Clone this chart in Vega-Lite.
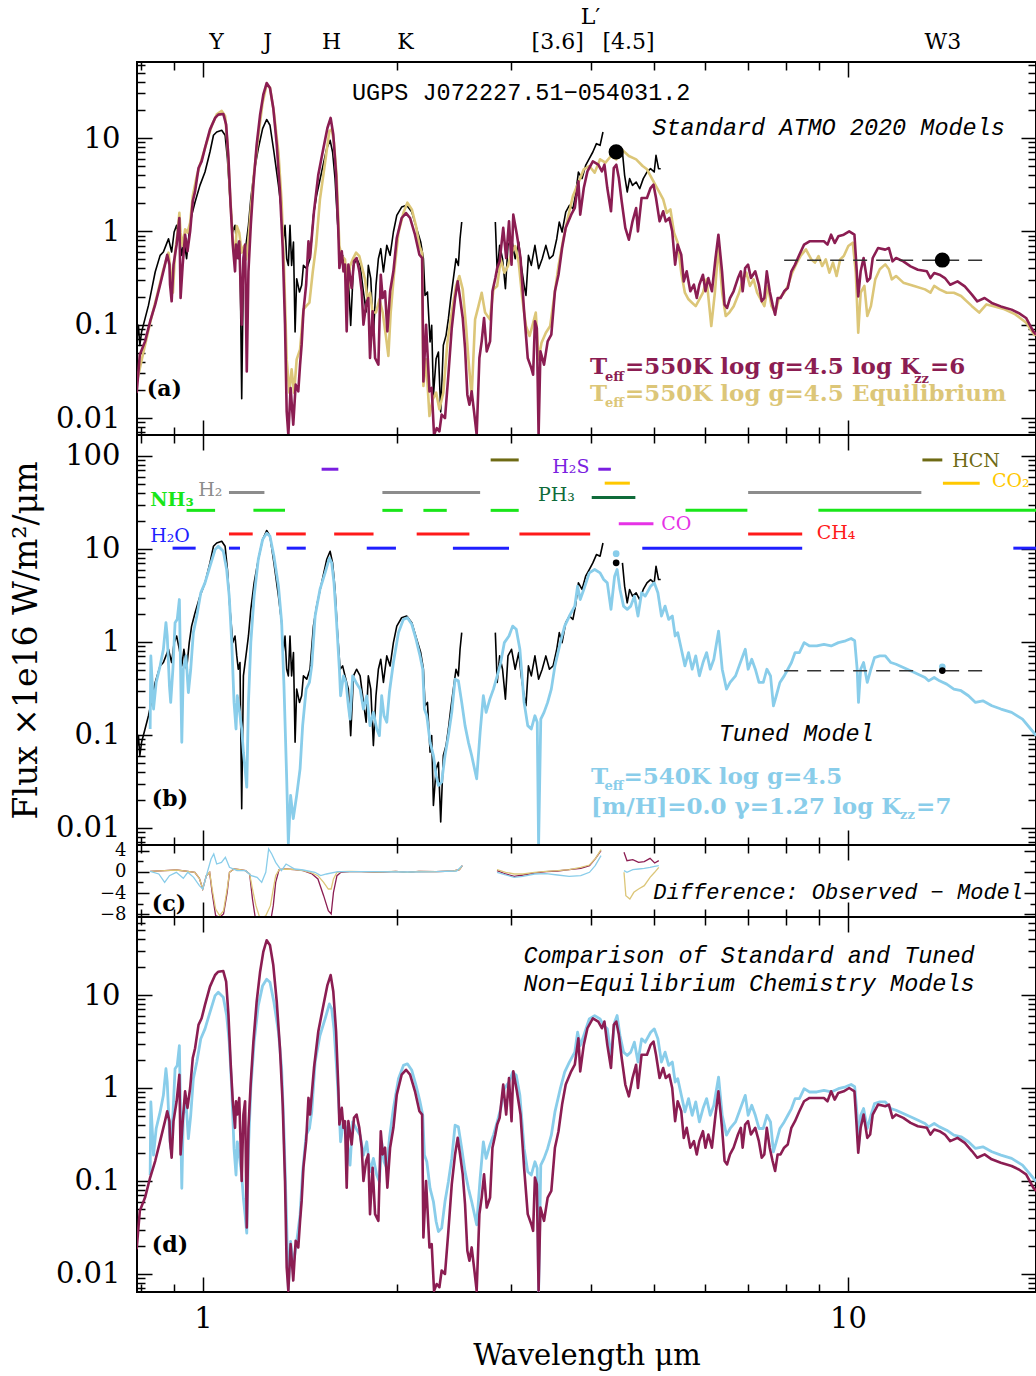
{
"$schema":"https://vega.github.io/schema/vega-lite/v6.json",
"background":"white",
"padding":{"left":9,"top":4,"right":0,"bottom":0},
"spacing":0,
"bounds":"flush",
"resolve":{"scale":{"color":"independent"}},
"config":{
 "view":{"stroke":"black","strokeWidth":2},
 "axis":{"domain":false,"grid":false,"labelFont":"DejaVu Serif","titleFont":"DejaVu Serif","labelColor":"black","titleColor":"black","tickColor":"black","tickWidth":1.5,"titleFontWeight":"normal","labelOverlap":false,"labelFlush":false,"labelBound":false}
},
"datasets":{
"obs":[{"w":0.789,"f":0.0652,"seg":1},{"w":0.794,"f":0.0984,"seg":1},{"w":0.798,"f":0.0601,"seg":1},{"w":0.803,"f":0.0834,"seg":1},{"w":0.813,"f":0.116,"seg":1},{"w":0.823,"f":0.161,"seg":1},{"w":0.833,"f":0.243,"seg":1},{"w":0.843,"f":0.367,"seg":1},{"w":0.858,"f":0.553,"seg":1},{"w":0.868,"f":0.601,"seg":1},{"w":0.876,"f":0.708,"seg":1},{"w":0.884,"f":0.834,"seg":1},{"w":0.894,"f":0.601,"seg":1},{"w":0.902,"f":0.984,"seg":1},{"w":0.91,"f":1.16,"seg":1},{"w":0.919,"f":0.834,"seg":1},{"w":0.927,"f":0.553,"seg":1},{"w":0.934,"f":0.834,"seg":1},{"w":0.943,"f":0.509,"seg":1},{"w":0.952,"f":0.984,"seg":1},{"w":0.96,"f":1.48,"seg":1},{"w":0.972,"f":2.06,"seg":1},{"w":0.989,"f":3.11,"seg":1},{"w":1.007,"f":4.32,"seg":1},{"w":1.025,"f":7.08,"seg":1},{"w":1.038,"f":10.7,"seg":1},{"w":1.05,"f":11.6,"seg":1},{"w":1.069,"f":12.1,"seg":1},{"w":1.082,"f":10.7,"seg":1},{"w":1.091,"f":6.01,"seg":1},{"w":1.101,"f":2.24,"seg":1},{"w":1.112,"f":0.984,"seg":1},{"w":1.121,"f":1.16,"seg":1},{"w":1.128,"f":0.708,"seg":1},{"w":1.134,"f":0.509,"seg":1},{"w":1.141,"f":0.601,"seg":1},{"w":1.148,"f":0.0161,"seg":1},{"w":1.155,"f":0.432,"seg":1},{"w":1.162,"f":0.601,"seg":1},{"w":1.169,"f":0.834,"seg":1},{"w":1.176,"f":1.16,"seg":1},{"w":1.186,"f":2.24,"seg":1},{"w":1.2,"f":4.32,"seg":1},{"w":1.218,"f":7.69,"seg":1},{"w":1.237,"f":12.6,"seg":1},{"w":1.255,"f":15.8,"seg":1},{"w":1.27,"f":13.7,"seg":1},{"w":1.288,"f":7.08,"seg":1},{"w":1.309,"f":3.11,"seg":1},{"w":1.324,"f":1.61,"seg":1},{"w":1.331,"f":0.769,"seg":1},{"w":1.34,"f":1.16,"seg":1},{"w":1.348,"f":0.509,"seg":1},{"w":1.356,"f":0.432,"seg":1},{"w":1.364,"f":1.16,"seg":1},{"w":1.372,"f":0.432,"seg":1},{"w":1.381,"f":0.769,"seg":1},{"w":1.389,"f":0.0834,"seg":1},{"w":1.397,"f":0.311,"seg":1},{"w":1.411,"f":0.224,"seg":1},{"w":1.422,"f":0.264,"seg":1},{"w":1.431,"f":0.432,"seg":1},{"w":1.448,"f":0.398,"seg":1},{"w":1.465,"f":0.509,"seg":1},{"w":1.483,"f":1.48,"seg":1},{"w":1.5,"f":2.43,"seg":1},{"w":1.527,"f":4.32,"seg":1},{"w":1.555,"f":7.69,"seg":1},{"w":1.574,"f":9.44,"seg":1},{"w":1.588,"f":7.08,"seg":1},{"w":1.602,"f":3.67,"seg":1},{"w":1.615,"f":1.37,"seg":1},{"w":1.631,"f":0.509,"seg":1},{"w":1.646,"f":0.553,"seg":1},{"w":1.66,"f":0.432,"seg":1},{"w":1.68,"f":0.311,"seg":1},{"w":1.694,"f":0.0984,"seg":1},{"w":1.711,"f":0.432,"seg":1},{"w":1.73,"f":0.509,"seg":1},{"w":1.752,"f":0.432,"seg":1},{"w":1.773,"f":0.224,"seg":1},{"w":1.79,"f":0.137,"seg":1},{"w":1.804,"f":0.432,"seg":1},{"w":1.82,"f":0.311,"seg":1},{"w":1.837,"f":0.0769,"seg":1},{"w":1.854,"f":0.264,"seg":1},{"w":1.87,"f":0.509,"seg":1},{"w":1.886,"f":0.652,"seg":1},{"w":1.904,"f":0.367,"seg":1},{"w":1.927,"f":0.708,"seg":1},{"w":1.95,"f":0.553,"seg":1},{"w":1.973,"f":0.984,"seg":1},{"w":1.997,"f":1.48,"seg":1},{"w":2.032,"f":1.82,"seg":1},{"w":2.069,"f":1.9,"seg":1},{"w":2.107,"f":1.61,"seg":1},{"w":2.144,"f":1.07,"seg":1},{"w":2.175,"f":0.769,"seg":1},{"w":2.196,"f":0.509,"seg":1},{"w":2.209,"f":0.206,"seg":1},{"w":2.228,"f":0.224,"seg":1},{"w":2.249,"f":0.0652,"seg":1},{"w":2.262,"f":0.0984,"seg":1},{"w":2.276,"f":0.0175,"seg":1},{"w":2.298,"f":0.0432,"seg":1},{"w":2.317,"f":0.0509,"seg":1},{"w":2.336,"f":0.0116,"seg":1},{"w":2.358,"f":0.0601,"seg":1},{"w":2.381,"f":0.0769,"seg":1},{"w":2.401,"f":0.116,"seg":1},{"w":2.421,"f":0.19,"seg":1},{"w":2.444,"f":0.311,"seg":1},{"w":2.467,"f":0.509,"seg":1},{"w":2.488,"f":0.432,"seg":1},{"w":2.503,"f":0.834,"seg":1},{"w":2.518,"f":1.26,"seg":1},
{"w":2.839,"f":1.26,"seg":2},{"w":2.858,"f":0.367,"seg":2},{"w":2.883,"f":0.708,"seg":2},{"w":2.913,"f":0.509,"seg":2},{"w":2.943,"f":0.243,"seg":2},{"w":2.97,"f":0.708,"seg":2},{"w":3.008,"f":0.834,"seg":2},{"w":3.047,"f":0.509,"seg":2},{"w":3.086,"f":0.769,"seg":2},{"w":3.114,"f":0.432,"seg":2},{"w":3.146,"f":0.264,"seg":2},{"w":3.167,"f":0.206,"seg":2},{"w":3.195,"f":0.553,"seg":2},{"w":3.228,"f":0.432,"seg":2},{"w":3.27,"f":0.708,"seg":2},{"w":3.313,"f":0.398,"seg":2},{"w":3.356,"f":0.509,"seg":2},{"w":3.4,"f":0.708,"seg":2},{"w":3.444,"f":0.509,"seg":2},{"w":3.489,"f":0.553,"seg":2},{"w":3.535,"f":0.834,"seg":2},{"w":3.567,"f":1.26,"seg":2},{"w":3.603,"f":0.984,"seg":2},{"w":3.65,"f":1.61,"seg":2},{"w":3.698,"f":1.9,"seg":2},{"w":3.745,"f":1.75,"seg":2},{"w":3.779,"f":2.43,"seg":2},{"w":3.819,"f":4.32,"seg":2},{"w":3.869,"f":3.67,"seg":2},{"w":3.919,"f":5.09,"seg":2},{"w":3.97,"f":6.01,"seg":2},{"w":4.021,"f":7.08,"seg":2},{"w":4.073,"f":8.7,"seg":2},{"w":4.126,"f":8.35,"seg":2},{"w":4.169,"f":11.6,"seg":2},
{"w":4.469,"f":7.08,"seg":3},{"w":4.504,"f":3.98,"seg":3},{"w":4.546,"f":2.64,"seg":3},{"w":4.585,"f":3.67,"seg":3},{"w":4.633,"f":3.11,"seg":3},{"w":4.693,"f":3.38,"seg":3},{"w":4.753,"f":2.86,"seg":3},{"w":4.814,"f":3.67,"seg":3},{"w":4.878,"f":4.32,"seg":3},{"w":4.941,"f":4.69,"seg":3},{"w":5.006,"f":4.32,"seg":3},{"w":5.038,"f":6.52,"seg":3},{"w":5.084,"f":4.69,"seg":3},{"w":5.123,"f":4.69,"seg":3}],
"neq":[{"w":0.789,"f":0.0185},{"w":0.798,"f":0.0477},{"w":0.813,"f":0.0663},{"w":0.828,"f":0.109},{"w":0.843,"f":0.164},{"w":0.858,"f":0.268},{"w":0.873,"f":0.44},{"w":0.88,"f":0.562},{"w":0.887,"f":0.44},{"w":0.889,"f":0.268},{"w":0.894,"f":0.178},{"w":0.9,"f":0.44},{"w":0.91,"f":0.72},{"w":0.919,"f":1.39},{"w":0.923,"f":0.193},{"w":0.93,"f":0.44},{"w":0.938,"f":0.921},{"w":0.946,"f":0.611},{"w":0.955,"f":1.0},{"w":0.964,"f":2.1},{"w":0.972,"f":2.68},{"w":0.984,"f":4.77},{"w":0.995,"f":5.62},{"w":1.007,"f":7.82},{"w":1.025,"f":12.3},{"w":1.044,"f":16.4},{"w":1.056,"f":17.8},{"w":1.075,"f":18.1},{"w":1.086,"f":13.9},{"w":1.095,"f":6.11},{"w":1.104,"f":1.78},{"w":1.112,"f":0.72},{"w":1.121,"f":0.373},{"w":1.125,"f":0.72},{"w":1.13,"f":0.518},{"w":1.138,"f":0.782},{"w":1.148,"f":0.1},{"w":1.155,"f":0.518},{"w":1.162,"f":0.72},{"w":1.169,"f":0.0316},{"w":1.176,"f":0.373},{"w":1.186,"f":1.18},{"w":1.197,"f":3.16},{"w":1.211,"f":8.48},{"w":1.226,"f":17.8},{"w":1.24,"f":29.1},{"w":1.255,"f":38.8},{"w":1.27,"f":34.3},{"w":1.285,"f":21.0},{"w":1.301,"f":8.48},{"w":1.316,"f":2.68},{"w":1.329,"f":0.663},{"w":1.34,"f":0.1},{"w":1.348,"f":0.0118},{"w":1.356,"f":0.0066},{"w":1.367,"f":0.021},{"w":1.38,"f":0.0085},{"w":1.392,"f":0.0228},{"w":1.405,"f":0.0193},{"w":1.414,"f":0.0373},{"w":1.422,"f":0.0611},{"w":1.431,"f":0.139},{"w":1.445,"f":0.268},{"w":1.457,"f":0.782},{"w":1.465,"f":0.518},{"w":1.474,"f":0.849},{"w":1.486,"f":1.64},{"w":1.509,"f":4.05},{"w":1.537,"f":7.82},{"w":1.559,"f":12.8},{"w":1.577,"f":16.4},{"w":1.592,"f":10.9},{"w":1.608,"f":4.05},{"w":1.621,"f":1.0},{"w":1.627,"f":0.405},{"w":1.641,"f":0.611},{"w":1.651,"f":0.373},{"w":1.66,"f":0.44},{"w":1.67,"f":0.0849},{"w":1.68,"f":0.44},{"w":1.7,"f":0.247},{"w":1.714,"f":0.477},{"w":1.73,"f":0.518},{"w":1.747,"f":0.373},{"w":1.762,"f":0.228},{"w":1.773,"f":0.1},{"w":1.79,"f":0.164},{"w":1.804,"f":0.193},{"w":1.815,"f":0.044},{"w":1.832,"f":0.139},{"w":1.848,"f":0.044},{"w":1.87,"f":0.0373},{"w":1.886,"f":0.343},{"w":1.899,"f":0.193},{"w":1.915,"f":0.228},{"w":1.931,"f":0.0849},{"w":1.95,"f":0.228},{"w":1.973,"f":0.373},{"w":1.997,"f":0.849},{"w":2.032,"f":1.39},{"w":2.064,"f":1.57},{"w":2.094,"f":1.39},{"w":2.131,"f":0.921},{"w":2.165,"f":0.562},{"w":2.186,"f":0.518},{"w":2.196,"f":0.0247},{"w":2.217,"f":0.1},{"w":2.244,"f":0.0193},{"w":2.262,"f":0.021},{"w":2.281,"f":0.0066},{"w":2.303,"f":0.0078},{"w":2.325,"f":0.0072},{"w":2.344,"f":0.0109},{"w":2.372,"f":0.01},{"w":2.401,"f":0.0291},{"w":2.43,"f":0.0921},{"w":2.459,"f":0.193},{"w":2.482,"f":0.291},{"w":2.503,"f":0.193},{"w":2.527,"f":0.118},{"w":2.548,"f":0.0562},{"w":2.569,"f":0.0178},{"w":2.588,"f":0.0139},{"w":2.609,"f":0.0193},{"w":2.631,"f":0.0118},{"w":2.656,"f":0.0066},{"w":2.682,"f":0.044},{"w":2.704,"f":0.0663},{"w":2.727,"f":0.118},{"w":2.753,"f":0.0518},{"w":2.786,"f":0.0663},{"w":2.81,"f":0.228},{"w":2.839,"f":0.316},{"w":2.858,"f":0.405},{"w":2.883,"f":0.477},{"w":2.92,"f":1.09},{"w":2.951,"f":0.518},{"w":2.981,"f":1.28},{"w":3.008,"f":0.44},{"w":3.027,"f":1.51},{"w":3.066,"f":0.921},{"w":3.106,"f":0.518},{"w":3.146,"f":0.139},{"w":3.187,"f":0.044},{"w":3.228,"f":0.0343},{"w":3.249,"f":0.0291},{"w":3.27,"f":0.109},{"w":3.292,"f":0.0921},{"w":3.313,"f":0.0066},{"w":3.335,"f":0.0518},{"w":3.378,"f":0.0373},{"w":3.422,"f":0.0663},{"w":3.467,"f":0.0781},{"w":3.512,"f":0.228},{"w":3.557,"f":0.343},{"w":3.603,"f":0.663},{"w":3.65,"f":1.09},{"w":3.722,"f":1.51},{"w":3.77,"f":1.78},{"w":3.819,"f":3.43},{"w":3.844,"f":1.51},{"w":3.893,"f":2.91},{"w":3.944,"f":4.39},{"w":4.021,"f":5.62},{"w":4.1,"f":5.18},{"w":4.153,"f":4.39},{"w":4.191,"f":5.18},{"w":4.234,"f":2.91},{"w":4.29,"f":1.64},{"w":4.333,"f":4.77},{"w":4.372,"f":5.18},{"w":4.412,"f":3.73},{"w":4.457,"f":2.1},{"w":4.515,"f":1.09},{"w":4.573,"f":0.814},{"w":4.633,"f":1.28},{"w":4.693,"f":1.78},{"w":4.723,"f":1.0},{"w":4.785,"f":2.28},{"w":4.878,"f":2.28},{"w":4.941,"f":2.91},{"w":4.993,"f":3.16},{"w":5.038,"f":2.28},{"w":5.103,"f":1.28},{"w":5.169,"f":1.64},{"w":5.216,"f":1.28},{"w":5.283,"f":1.39},{"w":5.338,"f":1.0},{"w":5.394,"f":0.44},{"w":5.443,"f":0.72},{"w":5.513,"f":0.562},{"w":5.563,"f":0.291},{"w":5.621,"f":0.373},{"w":5.694,"f":0.228},{"w":5.768,"f":0.268},{"w":5.827,"f":0.193},{"w":5.88,"f":0.268},{"w":5.957,"f":0.343},{"w":6.011,"f":0.228},{"w":6.073,"f":0.316},{"w":6.151,"f":0.228},{"w":6.231,"f":0.518},{"w":6.295,"f":0.921},{"w":6.377,"f":0.373},{"w":6.435,"f":0.164},{"w":6.493,"f":0.151},{"w":6.561,"f":0.193},{"w":6.646,"f":0.228},{"w":6.75,"f":0.316},{"w":6.82,"f":0.373},{"w":6.864,"f":0.228},{"w":6.926,"f":0.405},{"w":6.998,"f":0.44},{"w":7.07,"f":0.316},{"w":7.18,"f":0.373},{"w":7.273,"f":0.268},{"w":7.348,"f":0.178},{"w":7.416,"f":0.193},{"w":7.482,"f":0.373},{"w":7.56,"f":0.228},{"w":7.638,"f":0.164},{"w":7.707,"f":0.128},{"w":7.777,"f":0.193},{"w":7.858,"f":0.193},{"w":7.96,"f":0.228},{"w":8.063,"f":0.247},{"w":8.168,"f":0.373},{"w":8.275,"f":0.44},{"w":8.404,"f":0.562},{"w":8.547,"f":0.72},{"w":8.714,"f":0.782},{"w":8.941,"f":0.782},{"w":9.174,"f":0.782},{"w":9.292,"f":0.72},{"w":9.413,"f":0.921},{"w":9.535,"f":0.75},{"w":9.658,"f":0.884},{"w":9.847,"f":0.921},{"w":10.04,"f":1.0},{"w":10.23,"f":0.921},{"w":10.3,"f":0.44},{"w":10.37,"f":0.201},{"w":10.46,"f":0.373},{"w":10.57,"f":0.518},{"w":10.71,"f":0.291},{"w":10.82,"f":0.316},{"w":10.92,"f":0.518},{"w":11.13,"f":0.663},{"w":11.42,"f":0.637},{"w":11.57,"f":0.663},{"w":11.72,"f":0.477},{"w":11.87,"f":0.518},{"w":12.18,"f":0.477},{"w":12.5,"f":0.422},{"w":12.83,"f":0.388},{"w":13.25,"f":0.373},{"w":13.42,"f":0.316},{"w":13.6,"f":0.358},{"w":13.86,"f":0.343},{"w":14.13,"f":0.316},{"w":14.4,"f":0.268},{"w":14.78,"f":0.291},{"w":15.17,"f":0.257},{"w":15.56,"f":0.21},{"w":15.86,"f":0.178},{"w":16.28,"f":0.193},{"w":16.7,"f":0.171},{"w":17.25,"f":0.157},{"w":17.93,"f":0.145},{"w":18.4,"f":0.133},{"w":18.88,"f":0.118},{"w":19.37,"f":0.0849},{"w":19.57,"f":0.078}],
"eq":[{"w":0.789,"f":0.0239},{"w":0.808,"f":0.0501},{"w":0.828,"f":0.105},{"w":0.848,"f":0.203},{"w":0.868,"f":0.392},{"w":0.884,"f":0.591},{"w":0.891,"f":0.361},{"w":0.898,"f":0.22},{"w":0.905,"f":0.591},{"w":0.912,"f":0.891},{"w":0.919,"f":1.58},{"w":0.923,"f":0.968},{"w":0.93,"f":0.696},{"w":0.938,"f":1.05},{"w":0.946,"f":0.968},{"w":0.955,"f":1.24},{"w":0.964,"f":2.39},{"w":0.978,"f":3.92},{"w":0.995,"f":5.91},{"w":1.013,"f":8.91},{"w":1.031,"f":13.4},{"w":1.05,"f":17.9},{"w":1.069,"f":19.5},{"w":1.082,"f":17.2},{"w":1.091,"f":8.91},{"w":1.101,"f":2.6},{"w":1.112,"f":0.821},{"w":1.121,"f":0.501},{"w":1.128,"f":1.14},{"w":1.138,"f":0.968},{"w":1.148,"f":0.591},{"w":1.158,"f":0.696},{"w":1.166,"f":0.501},{"w":1.176,"f":0.821},{"w":1.186,"f":1.72},{"w":1.2,"f":4.25},{"w":1.218,"f":10.5},{"w":1.237,"f":23.9},{"w":1.255,"f":37.6},{"w":1.27,"f":34.6},{"w":1.288,"f":18.7},{"w":1.309,"f":6.96},{"w":1.324,"f":2.03},{"w":1.335,"f":0.425},{"w":1.348,"f":0.0425},{"w":1.361,"f":0.0187},{"w":1.372,"f":0.0332},{"w":1.384,"f":0.0187},{"w":1.397,"f":0.0425},{"w":1.414,"f":0.0544},{"w":1.431,"f":0.146},{"w":1.445,"f":0.158},{"w":1.462,"f":0.172},{"w":1.479,"f":0.361},{"w":1.497,"f":0.696},{"w":1.518,"f":2.2},{"w":1.546,"f":5.44},{"w":1.57,"f":11.9},{"w":1.583,"f":12.4},{"w":1.596,"f":8.91},{"w":1.611,"f":3.92},{"w":1.627,"f":0.696},{"w":1.641,"f":0.544},{"w":1.66,"f":0.501},{"w":1.674,"f":0.203},{"w":1.69,"f":0.425},{"w":1.706,"f":0.501},{"w":1.727,"f":0.591},{"w":1.747,"f":0.544},{"w":1.762,"f":0.425},{"w":1.783,"f":0.306},{"w":1.798,"f":0.187},{"w":1.815,"f":0.22},{"w":1.832,"f":0.135},{"w":1.854,"f":0.135},{"w":1.877,"f":0.187},{"w":1.899,"f":0.135},{"w":1.921,"f":0.0756},{"w":1.938,"f":0.0462},{"w":1.954,"f":0.135},{"w":1.978,"f":0.361},{"w":2.009,"f":0.968},{"w":2.045,"f":1.58},{"w":2.074,"f":2.03},{"w":2.107,"f":1.72},{"w":2.139,"f":1.14},{"w":2.165,"f":0.696},{"w":2.186,"f":0.591},{"w":2.196,"f":0.022},{"w":2.217,"f":0.0425},{"w":2.244,"f":0.0105},{"w":2.27,"f":0.0158},{"w":2.298,"f":0.0187},{"w":2.325,"f":0.0124},{"w":2.358,"f":0.0187},{"w":2.392,"f":0.0641},{"w":2.43,"f":0.135},{"w":2.467,"f":0.26},{"w":2.497,"f":0.332},{"w":2.527,"f":0.239},{"w":2.557,"f":0.0968},{"w":2.579,"f":0.0425},{"w":2.609,"f":0.0172},{"w":2.641,"f":0.114},{"w":2.673,"f":0.158},{"w":2.704,"f":0.22},{"w":2.737,"f":0.135},{"w":2.784,"f":0.114},{"w":2.82,"f":0.239},{"w":2.858,"f":0.26},{"w":2.894,"f":0.501},{"w":2.932,"f":0.361},{"w":2.97,"f":0.425},{"w":3.008,"f":0.591},{"w":3.047,"f":0.696},{"w":3.086,"f":0.462},{"w":3.127,"f":0.187},{"w":3.167,"f":0.0968},{"w":3.208,"f":0.0756},{"w":3.25,"f":0.105},{"w":3.28,"f":0.135},{"w":3.313,"f":0.0425},{"w":3.348,"f":0.0641},{"w":3.4,"f":0.082},{"w":3.453,"f":0.0968},{"w":3.498,"f":0.187},{"w":3.557,"f":0.425},{"w":3.618,"f":0.821},{"w":3.674,"f":1.35},{"w":3.745,"f":2.39},{"w":3.819,"f":3.32},{"w":3.893,"f":4.62},{"w":3.97,"f":5.01},{"w":4.047,"f":4.25},{"w":4.126,"f":5.91},{"w":4.206,"f":5.44},{"w":4.29,"f":6.41},{"w":4.373,"f":5.91},{"w":4.457,"f":7.56},{"w":4.573,"f":6.41},{"w":4.693,"f":5.91},{"w":4.803,"f":5.01},{"w":4.878,"f":4.62},{"w":4.973,"f":3.61},{"w":5.038,"f":3.06},{"w":5.103,"f":2.6},{"w":5.169,"f":2.2},{"w":5.236,"f":1.58},{"w":5.304,"f":1.72},{"w":5.373,"f":0.968},{"w":5.443,"f":0.756},{"w":5.513,"f":0.361},{"w":5.585,"f":0.22},{"w":5.657,"f":0.187},{"w":5.73,"f":0.172},{"w":5.805,"f":0.158},{"w":5.881,"f":0.187},{"w":5.957,"f":0.22},{"w":6.035,"f":0.306},{"w":6.137,"f":0.0968},{"w":6.216,"f":0.22},{"w":6.297,"f":0.696},{"w":6.38,"f":0.22},{"w":6.462,"f":0.124},{"w":6.546,"f":0.135},{"w":6.648,"f":0.158},{"w":6.778,"f":0.22},{"w":6.866,"f":0.306},{"w":6.955,"f":0.361},{"w":7.045,"f":0.26},{"w":7.137,"f":0.306},{"w":7.228,"f":0.22},{"w":7.322,"f":0.187},{"w":7.418,"f":0.158},{"w":7.511,"f":0.26},{"w":7.609,"f":0.158},{"w":7.709,"f":0.135},{"w":7.807,"f":0.187},{"w":7.962,"f":0.22},{"w":8.066,"f":0.26},{"w":8.192,"f":0.361},{"w":8.331,"f":0.462},{"w":8.439,"f":0.544},{"w":8.603,"f":0.641},{"w":8.77,"f":0.501},{"w":8.884,"f":0.462},{"w":8.999,"f":0.544},{"w":9.117,"f":0.425},{"w":9.235,"f":0.501},{"w":9.355,"f":0.361},{"w":9.476,"f":0.462},{"w":9.599,"f":0.332},{"w":9.723,"f":0.501},{"w":9.849,"f":0.544},{"w":10.01,"f":0.696},{"w":10.17,"f":0.756},{"w":10.28,"f":0.361},{"w":10.37,"f":0.082},{"w":10.46,"f":0.22},{"w":10.6,"f":0.26},{"w":10.71,"f":0.124},{"w":10.85,"f":0.158},{"w":11.02,"f":0.306},{"w":11.2,"f":0.392},{"w":11.42,"f":0.443},{"w":11.57,"f":0.392},{"w":11.69,"f":0.306},{"w":11.87,"f":0.332},{"w":12.18,"f":0.282},{"w":12.66,"f":0.26},{"w":13.16,"f":0.239},{"w":13.42,"f":0.22},{"w":13.6,"f":0.26},{"w":13.86,"f":0.239},{"w":14.22,"f":0.22},{"w":14.59,"f":0.22},{"w":14.97,"f":0.203},{"w":15.56,"f":0.158},{"w":15.97,"f":0.135},{"w":16.39,"f":0.165},{"w":16.82,"f":0.158},{"w":17.48,"f":0.146},{"w":18.17,"f":0.129},{"w":18.89,"f":0.105},{"w":19.5,"f":0.0756}],
"tuned":[{"w":0.828,"f":0.116},{"w":0.83,"f":0.708},{"w":0.838,"f":0.19},{"w":0.846,"f":0.367},{"w":0.858,"f":0.553},{"w":0.868,"f":0.834},{"w":0.876,"f":1.61},{"w":0.88,"f":1.16},{"w":0.887,"f":0.338},{"w":0.891,"f":0.224},{"w":0.898,"f":0.509},{"w":0.905,"f":1.61},{"w":0.912,"f":1.75},{"w":0.919,"f":2.86},{"w":0.923,"f":0.509},{"w":0.927,"f":0.0834},{"w":0.932,"f":0.509},{"w":0.941,"f":0.708},{"w":0.949,"f":0.286},{"w":0.957,"f":0.509},{"w":0.966,"f":1.26},{"w":0.978,"f":1.9},{"w":0.992,"f":3.38},{"w":1.007,"f":4.32},{"w":1.025,"f":6.52},{"w":1.044,"f":9.84},{"w":1.056,"f":10.7},{"w":1.075,"f":9.44},{"w":1.088,"f":6.01},{"w":1.098,"f":3.11},{"w":1.108,"f":0.984},{"w":1.117,"f":0.224},{"w":1.125,"f":0.116},{"w":1.13,"f":0.264},{"w":1.138,"f":0.19},{"w":1.148,"f":0.116},{"w":1.155,"f":0.0652},{"w":1.162,"f":0.0432},{"w":1.169,"f":0.0275},{"w":1.176,"f":0.224},{"w":1.186,"f":0.984},{"w":1.2,"f":3.11},{"w":1.218,"f":7.69},{"w":1.237,"f":12.6},{"w":1.255,"f":14.8},{"w":1.27,"f":13.7},{"w":1.288,"f":8.35},{"w":1.309,"f":3.98},{"w":1.324,"f":1.61},{"w":1.335,"f":0.338},{"w":1.348,"f":0.0338},{"w":1.356,"f":0.0068},{"w":1.367,"f":0.0224},{"w":1.38,"f":0.0126},{"w":1.397,"f":0.0224},{"w":1.414,"f":0.0432},{"w":1.427,"f":0.126},{"w":1.445,"f":0.311},{"w":1.462,"f":0.367},{"w":1.474,"f":0.553},{"w":1.492,"f":1.9},{"w":1.518,"f":3.67},{"w":1.546,"f":5.53},{"w":1.57,"f":8.01},{"w":1.583,"f":7.08},{"w":1.596,"f":4.32},{"w":1.611,"f":1.61},{"w":1.627,"f":0.509},{"w":1.634,"f":0.264},{"w":1.651,"f":0.432},{"w":1.666,"f":0.367},{"w":1.68,"f":0.206},{"w":1.69,"f":0.148},{"w":1.706,"f":0.432},{"w":1.727,"f":0.367},{"w":1.752,"f":0.311},{"w":1.773,"f":0.19},{"w":1.794,"f":0.264},{"w":1.815,"f":0.126},{"w":1.837,"f":0.175},{"w":1.859,"f":0.116},{"w":1.877,"f":0.0984},{"w":1.892,"f":0.264},{"w":1.908,"f":0.161},{"w":1.927,"f":0.137},{"w":1.945,"f":0.286},{"w":1.973,"f":0.601},{"w":2.009,"f":1.26},{"w":2.045,"f":1.75},{"w":2.074,"f":1.82},{"w":2.107,"f":1.55},{"w":2.139,"f":1.07},{"w":2.17,"f":0.708},{"w":2.191,"f":0.509},{"w":2.204,"f":0.19},{"w":2.223,"f":0.161},{"w":2.249,"f":0.0834},{"w":2.276,"f":0.0601},{"w":2.298,"f":0.0367},{"w":2.317,"f":0.0286},{"w":2.344,"f":0.0311},{"w":2.372,"f":0.0601},{"w":2.401,"f":0.0984},{"w":2.43,"f":0.175},{"w":2.459,"f":0.398},{"w":2.488,"f":0.382},{"w":2.518,"f":0.224},{"w":2.548,"f":0.126},{"w":2.579,"f":0.0834},{"w":2.609,"f":0.0601},{"w":2.656,"f":0.0338},{"w":2.689,"f":0.107},{"w":2.72,"f":0.264},{"w":2.747,"f":0.175},{"w":2.784,"f":0.243},{"w":2.82,"f":0.311},{"w":2.858,"f":0.432},{"w":2.894,"f":0.601},{"w":2.932,"f":0.984},{"w":2.981,"f":1.16},{"w":3.02,"f":1.48},{"w":3.059,"f":1.37},{"w":3.099,"f":0.834},{"w":3.146,"f":0.224},{"w":3.187,"f":0.126},{"w":3.228,"f":0.116},{"w":3.27,"f":0.161},{"w":3.297,"f":0.137},{"w":3.313,"f":0.0065},{"w":3.339,"f":0.148},{"w":3.378,"f":0.175},{"w":3.422,"f":0.224},{"w":3.467,"f":0.311},{"w":3.512,"f":0.553},{"w":3.58,"f":0.984},{"w":3.636,"f":1.48},{"w":3.698,"f":1.9},{"w":3.77,"f":2.43},{"w":3.808,"f":3.98},{"w":3.844,"f":2.86},{"w":3.893,"f":3.67},{"w":3.97,"f":5.53},{"w":4.047,"f":6.01},{"w":4.126,"f":5.53},{"w":4.18,"f":4.69},{"w":4.234,"f":4.32},{"w":4.29,"f":2.24},{"w":4.346,"f":5.09},{"w":4.385,"f":6.01},{"w":4.43,"f":3.67},{"w":4.487,"f":2.43},{"w":4.546,"f":2.24},{"w":4.604,"f":2.43},{"w":4.664,"f":3.11},{"w":4.724,"f":1.9},{"w":4.786,"f":3.38},{"w":4.848,"f":3.11},{"w":4.943,"f":3.98},{"w":5.008,"f":4.32},{"w":5.072,"f":3.38},{"w":5.137,"f":1.9},{"w":5.204,"f":2.43},{"w":5.271,"f":1.75},{"w":5.34,"f":1.9},{"w":5.395,"f":1.16},{"w":5.444,"f":1.26},{"w":5.515,"f":0.834},{"w":5.586,"f":0.553},{"w":5.658,"f":0.769},{"w":5.732,"f":0.509},{"w":5.806,"f":0.708},{"w":5.882,"f":0.432},{"w":5.958,"f":0.601},{"w":6.036,"f":0.769},{"w":6.114,"f":0.509},{"w":6.193,"f":0.652},{"w":6.299,"f":1.31},{"w":6.381,"f":0.509},{"w":6.48,"f":0.311},{"w":6.564,"f":0.367},{"w":6.692,"f":0.432},{"w":6.779,"f":0.553},{"w":6.867,"f":0.708},{"w":6.929,"f":0.834},{"w":7.0,"f":0.509},{"w":7.091,"f":0.652},{"w":7.182,"f":0.509},{"w":7.276,"f":0.367},{"w":7.389,"f":0.367},{"w":7.485,"f":0.509},{"w":7.582,"f":0.432},{"w":7.661,"f":0.206},{"w":7.74,"f":0.264},{"w":7.841,"f":0.367},{"w":7.962,"f":0.432},{"w":8.066,"f":0.509},{"w":8.171,"f":0.601},{"w":8.277,"f":0.769},{"w":8.406,"f":0.769},{"w":8.549,"f":0.984},{"w":8.716,"f":0.906},{"w":8.943,"f":0.906},{"w":9.176,"f":0.944},{"w":9.415,"f":0.906},{"w":9.661,"f":0.984},{"w":9.913,"f":1.03},{"w":10.11,"f":1.09},{"w":10.24,"f":1.03},{"w":10.33,"f":0.509},{"w":10.38,"f":0.224},{"w":10.46,"f":0.509},{"w":10.57,"f":0.601},{"w":10.71,"f":0.367},{"w":10.85,"f":0.509},{"w":10.99,"f":0.679},{"w":11.2,"f":0.708},{"w":11.42,"f":0.708},{"w":11.65,"f":0.601},{"w":11.87,"f":0.576},{"w":12.18,"f":0.531},{"w":12.67,"f":0.469},{"w":13.16,"f":0.415},{"w":13.33,"f":0.382},{"w":13.6,"f":0.415},{"w":13.86,"f":0.382},{"w":14.22,"f":0.352},{"w":14.59,"f":0.311},{"w":14.97,"f":0.299},{"w":15.37,"f":0.264},{"w":15.76,"f":0.224},{"w":16.18,"f":0.233},{"w":16.71,"f":0.206},{"w":17.26,"f":0.19},{"w":17.93,"f":0.175},{"w":18.64,"f":0.148},{"w":19.38,"f":0.107},{"w":19.57,"f":0.0984}],
"diff":[{"s":"neq","seg":1,"w":0.828,"f":0.13},{"s":"neq","seg":1,"w":0.872,"f":0.25},{"s":"neq","seg":1,"w":0.909,"f":0.38},{"s":"neq","seg":1,"w":0.947,"f":0.13},{"s":"neq","seg":1,"w":0.971,"f":-0.06},{"s":"neq","seg":1,"w":0.987,"f":-1.21},{"s":"neq","seg":1,"w":0.999,"f":-3.24},{"s":"neq","seg":1,"w":1.012,"f":-0.7},{"s":"neq","seg":1,"w":1.024,"f":-0.06},{"s":"neq","seg":1,"w":1.033,"f":-3.87},{"s":"neq","seg":1,"w":1.046,"f":-8.32},{"s":"neq","seg":1,"w":1.061,"f":-8.63},{"s":"neq","seg":1,"w":1.076,"f":-8.0},{"s":"neq","seg":1,"w":1.09,"f":-3.87},{"s":"neq","seg":1,"w":1.099,"f":-0.06},{"s":"neq","seg":1,"w":1.117,"f":0.57},{"s":"neq","seg":1,"w":1.14,"f":0.44},{"s":"neq","seg":1,"w":1.164,"f":0.25},{"s":"neq","seg":1,"w":1.181,"f":-0.38},{"s":"neq","seg":1,"w":1.193,"f":-5.14},{"s":"neq","seg":1,"w":1.208,"f":-9.59},{"s":"neq","seg":1,"w":1.226,"f":-10.2},{"s":"neq","seg":1,"w":1.251,"f":-10.2},{"s":"neq","seg":1,"w":1.272,"f":-9.59},{"s":"neq","seg":1,"w":1.285,"f":-6.41},{"s":"neq","seg":1,"w":1.296,"f":-1.97},{"s":"neq","seg":1,"w":1.312,"f":0.44},{"s":"neq","seg":1,"w":1.345,"f":0.57},{"s":"neq","seg":1,"w":1.387,"f":0.44},{"s":"neq","seg":1,"w":1.43,"f":0.25},{"s":"neq","seg":1,"w":1.476,"f":-0.38},{"s":"neq","seg":1,"w":1.507,"f":-1.33},{"s":"neq","seg":1,"w":1.538,"f":-4.51},{"s":"neq","seg":1,"w":1.564,"f":-7.37},{"s":"neq","seg":1,"w":1.58,"f":-8.0},{"s":"neq","seg":1,"w":1.593,"f":-3.87},{"s":"neq","seg":1,"w":1.613,"f":-0.7},{"s":"neq","seg":1,"w":1.636,"f":-0.06},{"s":"neq","seg":1,"w":1.688,"f":0.06},{"s":"neq","seg":1,"w":1.758,"f":0.06},{"s":"neq","seg":1,"w":1.871,"f":-0.06},{"s":"neq","seg":1,"w":1.99,"f":0.13},{"s":"neq","seg":1,"w":2.074,"f":-0.06},{"s":"neq","seg":1,"w":2.161,"f":0.13},{"s":"neq","seg":1,"w":2.299,"f":0.06},{"s":"neq","seg":1,"w":2.446,"f":0.19},{"s":"neq","seg":1,"w":2.497,"f":0.44},{"s":"neq","seg":1,"w":2.523,"f":1.21},
{"s":"neq","seg":2,"w":2.856,"f":0.25},{"s":"neq","seg":2,"w":2.945,"f":-0.38},{"s":"neq","seg":2,"w":3.037,"f":-0.83},{"s":"neq","seg":2,"w":3.133,"f":-0.57},{"s":"neq","seg":2,"w":3.266,"f":-0.19},{"s":"neq","seg":2,"w":3.402,"f":0.06},{"s":"neq","seg":2,"w":3.546,"f":0.19},{"s":"neq","seg":2,"w":3.695,"f":0.44},{"s":"neq","seg":2,"w":3.851,"f":0.7},{"s":"neq","seg":2,"w":3.973,"f":1.21},{"s":"neq","seg":2,"w":4.055,"f":2.48},{"s":"neq","seg":2,"w":4.14,"f":4.06},
{"s":"neq","seg":3,"w":4.494,"f":3.75},{"s":"neq","seg":3,"w":4.542,"f":2.16},{"s":"neq","seg":3,"w":4.637,"f":2.35},{"s":"neq","seg":3,"w":4.734,"f":1.84},{"s":"neq","seg":3,"w":4.831,"f":1.97},{"s":"neq","seg":3,"w":4.932,"f":2.6},{"s":"neq","seg":3,"w":5.014,"f":1.71},{"s":"neq","seg":3,"w":5.088,"f":2.16},
{"s":"eq","seg":1,"w":0.828,"f":0.13},{"s":"eq","seg":1,"w":0.872,"f":0.25},{"s":"eq","seg":1,"w":0.909,"f":0.38},{"s":"eq","seg":1,"w":0.947,"f":0.13},{"s":"eq","seg":1,"w":0.971,"f":-0.06},{"s":"eq","seg":1,"w":0.987,"f":-1.21},{"s":"eq","seg":1,"w":0.999,"f":-3.24},{"s":"eq","seg":1,"w":1.012,"f":-0.7},{"s":"eq","seg":1,"w":1.024,"f":-0.06},{"s":"eq","seg":1,"w":1.033,"f":-3.24},{"s":"eq","seg":1,"w":1.046,"f":-7.05},{"s":"eq","seg":1,"w":1.061,"f":-8.32},{"s":"eq","seg":1,"w":1.076,"f":-7.37},{"s":"eq","seg":1,"w":1.09,"f":-3.24},{"s":"eq","seg":1,"w":1.099,"f":-0.06},{"s":"eq","seg":1,"w":1.117,"f":0.57},{"s":"eq","seg":1,"w":1.14,"f":0.44},{"s":"eq","seg":1,"w":1.164,"f":0.25},{"s":"eq","seg":1,"w":1.181,"f":-0.38},{"s":"eq","seg":1,"w":1.193,"f":-3.24},{"s":"eq","seg":1,"w":1.208,"f":-6.41},{"s":"eq","seg":1,"w":1.226,"f":-8.95},{"s":"eq","seg":1,"w":1.251,"f":-8.32},{"s":"eq","seg":1,"w":1.272,"f":-6.41},{"s":"eq","seg":1,"w":1.285,"f":-3.24},{"s":"eq","seg":1,"w":1.296,"f":-0.7},{"s":"eq","seg":1,"w":1.312,"f":0.44},{"s":"eq","seg":1,"w":1.345,"f":0.57},{"s":"eq","seg":1,"w":1.387,"f":0.44},{"s":"eq","seg":1,"w":1.43,"f":0.25},{"s":"eq","seg":1,"w":1.476,"f":-0.19},{"s":"eq","seg":1,"w":1.507,"f":-0.7},{"s":"eq","seg":1,"w":1.538,"f":-1.97},{"s":"eq","seg":1,"w":1.564,"f":-3.24},{"s":"eq","seg":1,"w":1.58,"f":-3.24},{"s":"eq","seg":1,"w":1.593,"f":-1.33},{"s":"eq","seg":1,"w":1.613,"f":-0.06},{"s":"eq","seg":1,"w":1.636,"f":0.06},{"s":"eq","seg":1,"w":1.688,"f":0.13},{"s":"eq","seg":1,"w":1.758,"f":0.06},{"s":"eq","seg":1,"w":1.871,"f":0.0},{"s":"eq","seg":1,"w":1.99,"f":0.13},{"s":"eq","seg":1,"w":2.074,"f":-0.06},{"s":"eq","seg":1,"w":2.161,"f":0.13},{"s":"eq","seg":1,"w":2.299,"f":0.06},{"s":"eq","seg":1,"w":2.446,"f":0.19},{"s":"eq","seg":1,"w":2.497,"f":0.44},{"s":"eq","seg":1,"w":2.523,"f":1.21},
{"s":"eq","seg":2,"w":2.856,"f":0.44},{"s":"eq","seg":2,"w":2.945,"f":-0.06},{"s":"eq","seg":2,"w":3.037,"f":-0.38},{"s":"eq","seg":2,"w":3.133,"f":-0.38},{"s":"eq","seg":2,"w":3.266,"f":-0.06},{"s":"eq","seg":2,"w":3.402,"f":0.13},{"s":"eq","seg":2,"w":3.546,"f":0.25},{"s":"eq","seg":2,"w":3.695,"f":0.44},{"s":"eq","seg":2,"w":3.851,"f":0.89},{"s":"eq","seg":2,"w":3.973,"f":1.33},{"s":"eq","seg":2,"w":4.055,"f":2.48},{"s":"eq","seg":2,"w":4.14,"f":4.25},
{"s":"eq","seg":3,"w":4.494,"f":-0.06},{"s":"eq","seg":3,"w":4.524,"f":-4.51},{"s":"eq","seg":3,"w":4.589,"f":-5.14},{"s":"eq","seg":3,"w":4.655,"f":-3.87},{"s":"eq","seg":3,"w":4.734,"f":-3.24},{"s":"eq","seg":3,"w":4.831,"f":-2.6},{"s":"eq","seg":3,"w":4.932,"f":-1.02},{"s":"eq","seg":3,"w":5.014,"f":-0.06},{"s":"eq","seg":3,"w":5.088,"f":0.89},
{"s":"tuned","seg":1,"w":0.828,"f":0.13},{"s":"tuned","seg":1,"w":0.854,"f":-0.38},{"s":"tuned","seg":1,"w":0.872,"f":-1.97},{"s":"tuned","seg":1,"w":0.887,"f":-0.7},{"s":"tuned","seg":1,"w":0.909,"f":-0.06},{"s":"tuned","seg":1,"w":0.932,"f":-1.21},{"s":"tuned","seg":1,"w":0.947,"f":-0.06},{"s":"tuned","seg":1,"w":0.967,"f":-1.02},{"s":"tuned","seg":1,"w":0.987,"f":-2.6},{"s":"tuned","seg":1,"w":0.999,"f":-3.24},{"s":"tuned","seg":1,"w":1.012,"f":-0.7},{"s":"tuned","seg":1,"w":1.029,"f":2.48},{"s":"tuned","seg":1,"w":1.039,"f":3.43},{"s":"tuned","seg":1,"w":1.05,"f":1.52},{"s":"tuned","seg":1,"w":1.068,"f":1.84},{"s":"tuned","seg":1,"w":1.083,"f":2.79},{"s":"tuned","seg":1,"w":1.099,"f":0.89},{"s":"tuned","seg":1,"w":1.129,"f":0.25},{"s":"tuned","seg":1,"w":1.164,"f":0.25},{"s":"tuned","seg":1,"w":1.188,"f":-0.7},{"s":"tuned","seg":1,"w":1.213,"f":-1.02},{"s":"tuned","seg":1,"w":1.233,"f":-1.97},{"s":"tuned","seg":1,"w":1.251,"f":-0.06},{"s":"tuned","seg":1,"w":1.264,"f":4.38},{"s":"tuned","seg":1,"w":1.278,"f":3.43},{"s":"tuned","seg":1,"w":1.296,"f":1.84},{"s":"tuned","seg":1,"w":1.323,"f":0.25},{"s":"tuned","seg":1,"w":1.345,"f":1.52},{"s":"tuned","seg":1,"w":1.387,"f":0.57},{"s":"tuned","seg":1,"w":1.43,"f":0.38},{"s":"tuned","seg":1,"w":1.491,"f":-0.06},{"s":"tuned","seg":1,"w":1.522,"f":-0.7},{"s":"tuned","seg":1,"w":1.554,"f":-0.38},{"s":"tuned","seg":1,"w":1.619,"f":0.06},{"s":"tuned","seg":1,"w":1.833,"f":0.06},{"s":"tuned","seg":1,"w":2.074,"f":0.0},{"s":"tuned","seg":1,"w":2.299,"f":0.06},{"s":"tuned","seg":1,"w":2.472,"f":0.19},{"s":"tuned","seg":1,"w":2.523,"f":1.21},
{"s":"tuned","seg":2,"w":2.856,"f":-0.06},{"s":"tuned","seg":2,"w":2.945,"f":-0.57},{"s":"tuned","seg":2,"w":3.037,"f":-1.02},{"s":"tuned","seg":2,"w":3.133,"f":-0.83},{"s":"tuned","seg":2,"w":3.266,"f":-0.38},{"s":"tuned","seg":2,"w":3.402,"f":-0.32},{"s":"tuned","seg":2,"w":3.546,"f":-0.57},{"s":"tuned","seg":2,"w":3.695,"f":-0.83},{"s":"tuned","seg":2,"w":3.851,"f":-0.7},{"s":"tuned","seg":2,"w":3.973,"f":-0.06},{"s":"tuned","seg":2,"w":4.055,"f":1.21},{"s":"tuned","seg":2,"w":4.14,"f":3.11},
{"s":"tuned","seg":3,"w":4.494,"f":0.25},{"s":"tuned","seg":3,"w":4.542,"f":-0.06},{"s":"tuned","seg":3,"w":4.637,"f":0.44},{"s":"tuned","seg":3,"w":4.734,"f":0.57},{"s":"tuned","seg":3,"w":4.831,"f":0.7},{"s":"tuned","seg":3,"w":4.932,"f":0.89},{"s":"tuned","seg":3,"w":5.014,"f":1.08},{"s":"tuned","seg":3,"w":5.088,"f":1.21}],
"phot":[{"s":"obs","w":4.37,"f":7.1},{"s":"obs","w":14.0,"f":0.493},{"s":"tuned","w":4.37,"f":8.9},{"s":"tuned","w":14.0,"f":0.54}],
"w3":[{"w1":7.96,"w2":16.6,"f":0.49}],
"bars":[{"mol":"H2S","w1":1.527,"w2":1.621,"f":72},{"mol":"H2S","w1":4.1,"w2":4.288,"f":72},{"mol":"H2","w1":1.097,"w2":1.245,"f":40.5},{"mol":"H2","w1":1.897,"w2":2.689,"f":40.5},{"mol":"H2","w1":7.0,"w2":12.99,"f":40.5},{"mol":"NH3","w1":0.943,"w2":1.044,"f":26},{"mol":"NH3","w1":1.197,"w2":1.34,"f":26},{"mol":"NH3","w1":1.897,"w2":2.04,"f":26},{"mol":"NH3","w1":2.196,"w2":2.387,"f":26},{"mol":"NH3","w1":2.792,"w2":3.086,"f":26},{"mol":"NH3","w1":5.598,"w2":6.981,"f":26},{"mol":"NH3","w1":8.995,"w2":19.6,"f":26},{"mol":"CH4","w1":1.097,"w2":1.194,"f":14.5},{"mol":"CH4","w1":1.298,"w2":1.443,"f":14.5},{"mol":"CH4","w1":1.597,"w2":1.838,"f":14.5},{"mol":"CH4","w1":2.144,"w2":2.588,"f":14.5},{"mol":"CH4","w1":3.094,"w2":3.983,"f":14.5},{"mol":"CH4","w1":7.0,"w2":8.49,"f":14.5},{"mol":"H2O","w1":0.897,"w2":0.974,"f":10.2},{"mol":"H2O","w1":1.097,"w2":1.141,"f":10.2},{"mol":"H2O","w1":1.348,"w2":1.443,"f":10.2},{"mol":"H2O","w1":1.794,"w2":1.991,"f":10.2},{"mol":"H2O","w1":2.44,"w2":2.981,"f":10.2},{"mol":"H2O","w1":4.797,"w2":8.49,"f":10.2},{"mol":"H2O","w1":18.04,"w2":19.6,"f":10.2},{"mol":"HCN","w1":2.792,"w2":3.086,"f":90.6},{"mol":"HCN","w1":13.04,"w2":14.0,"f":90.6},{"mol":"CO2","w1":4.195,"w2":4.589,"f":51},{"mol":"CO2","w1":14.03,"w2":16.0,"f":51},{"mol":"PH3","w1":4.005,"w2":4.68,"f":35.8},{"mol":"CO","w1":4.411,"w2":4.992,"f":18.7}],
"mlab":[{"mol":"NH3","t":"NH₃","w":0.828,"f":33.8},{"mol":"H2","t":"H₂","w":0.983,"f":42.6},{"mol":"H2O","t":"H₂O","w":0.828,"f":13.7},{"mol":"H2S","t":"H₂S","w":3.479,"f":75.7},{"mol":"PH3","t":"PH₃","w":3.305,"f":38.3},{"mol":"CO","t":"CO","w":5.134,"f":18.7},{"mol":"CH4","t":"CH₄","w":8.94,"f":14.8},{"mol":"HCN","t":"HCN","w":14.5,"f":89.3},{"mol":"CO2","t":"CO₂","w":16.71,"f":53.2}],
"ital":[{"p":"a","t":"Standard ATMO 2020 Models","w":4.973,"f":12.9},{"p":"b","t":"Tuned Model","w":6.3,"f":0.1025},{"p":"c","t":"Difference: Observed − Model","w":4.99,"f":-3.87},{"p":"d","t":"Comparison of Standard and Tuned","w":3.138,"f":26.2},{"p":"d","t":"Non−Equilibrium Chemistry Models","w":3.138,"f":13.0}],
"mono":[{"p":"a","t":"UGPS J072227.51−054031.2","w":1.702,"f":30.5}],
"tags":[{"p":"a","t":"(a)","w":0.818,"f":0.0203},{"p":"b","t":"(b)","w":0.833,"f":0.0206},{"p":"c","t":"(c)","w":0.833,"f":-6.1},{"p":"d","t":"(d)","w":0.833,"f":0.0204}],
"leg":[{"p":"a","s":"neq","t":"T","w":3.981,"f":0.0349},{"p":"a","s":"neq","t":"=550K log g=4.5 log K","w":4.511,"f":0.0349},{"p":"a","s":"neq","t":"=6","w":13.4,"f":0.0349},{"p":"a","s":"eq","t":"T","w":3.981,"f":0.0179},{"p":"a","s":"eq","t":"=550K log g=4.5 Equilibrium","w":4.511,"f":0.0179},{"p":"b","s":"tuned","t":"T","w":3.996,"f":0.0351},{"p":"b","s":"tuned","t":"=540K log g=4.5","w":4.485,"f":0.0351},{"p":"b","s":"tuned","t":"[m/H]=0.0 γ=1.27 log K","w":3.996,"f":0.0168},{"p":"b","s":"tuned","t":"=7","w":12.75,"f":0.0168}],
"legsub":[{"p":"a","s":"neq","t":"eff","w":4.2,"f":0.0272},{"p":"a","s":"neq","t":"zz","w":12.66,"f":0.0262},{"p":"a","s":"eq","t":"eff","w":4.2,"f":0.0146},{"p":"b","s":"tuned","t":"eff","w":4.191,"f":0.0284},{"p":"b","s":"tuned","t":"zz","w":12.04,"f":0.0137}]
},
"vconcat":[
{
 "width":899,"height":373,
 "resolve":{"axis":{"x":"independent","y":"independent"}},
 "layer":[
  {"data":{"name":"obs"},"mark":{"type":"line","color":"black","strokeWidth":1.6,"clip":true,"strokeJoin":"round"},
   "encoding":{"x":{"field":"w","type":"quantitative","scale":{"type":"log","domain":[0.79,19.56],"nice":false},"axis":{"orient":"bottom","values":[0.8,0.9,1,2,3,4,5,6,7,8,9,10],"labels":false,"title":null,"tickSize":{"condition":{"test":"datum.value == 1 || datum.value == 10","value":-15},"value":-8}}},
    "y":{"field":"f","type":"quantitative","scale":{"type":"log","domain":[0.00658,65.2],"nice":false},"axis":{"orient":"left","values":[0.007,0.008,0.009,0.01,0.02,0.03,0.04,0.05,0.06,0.07,0.08,0.09,0.1,0.2,0.3,0.4,0.5,0.6,0.7,0.8,0.9,1,2,3,4,5,6,7,8,9,10,20,30,40,50,60],"labels":false,"title":null,"tickSize":{"condition":{"test":"abs(log(datum.value)/LN10 - round(log(datum.value)/LN10)) < 0.001","value":-15},"value":-8}}},
    "detail":{"field":"seg","type":"nominal"}}},
  {"data":{"name":"eq"},"mark":{"type":"line","color":"#dcc678","strokeWidth":2.6,"clip":true,"strokeJoin":"round"},
   "encoding":{"x":{"field":"w","type":"quantitative","scale":{"type":"log","domain":[0.79,19.56],"nice":false},"axis":{"orient":"top","values":[0.8,0.9,1,2,3,4,5,6,7,8,9,10],"labels":false,"title":null,"tickSize":{"condition":{"test":"datum.value == 1 || datum.value == 10","value":-15},"value":-8}}},
    "y":{"field":"f","type":"quantitative","scale":{"type":"log","domain":[0.00658,65.2],"nice":false},"axis":{"orient":"right","values":[0.007,0.008,0.009,0.01,0.02,0.03,0.04,0.05,0.06,0.07,0.08,0.09,0.1,0.2,0.3,0.4,0.5,0.6,0.7,0.8,0.9,1,2,3,4,5,6,7,8,9,10,20,30,40,50,60],"labels":false,"title":null,"tickSize":{"condition":{"test":"abs(log(datum.value)/LN10 - round(log(datum.value)/LN10)) < 0.001","value":-15},"value":-8}}}}},
  {"data":{"name":"neq"},"mark":{"type":"line","color":"#8b1d52","strokeWidth":2.6,"clip":true,"strokeJoin":"round"},
   "encoding":{"x":{"field":"w","type":"quantitative","scale":{"type":"log","domain":[0.79,19.56],"nice":false},"axis":{"orient":"top","values":[1.047,1.257,1.579,2.057,3.54,3.98,4.56,14.0],"ticks":false,"title":null,"labelFontSize":22,"labelPadding":{"condition":{"test":"datum.value > 3.9 && datum.value < 4.1","value":34},"value":9},"labelExpr":"datum.value < 1.1 ? 'Y' : datum.value < 1.4 ? 'J' : datum.value < 1.8 ? 'H' : datum.value < 2.5 ? 'K' : datum.value < 3.7 ? '[3.6]' : datum.value < 4.2 ? 'L′' : datum.value < 5 ? '[4.5]' : 'W3'"}},
    "y":{"field":"f","type":"quantitative","scale":{"type":"log","domain":[0.00658,65.2],"nice":false},"axis":{"orient":"left","values":[0.01,0.1,1,10],"ticks":false,"format":"~g","labelFontSize":29,"labelPadding":17,"title":null}}}},
  {"data":{"name":"w3"},"mark":{"type":"rule","color":"#333333","strokeWidth":1.5,"strokeDash":[14,9]},
   "encoding":{"x":{"field":"w1","type":"quantitative","scale":{"type":"log","domain":[0.79,19.56],"nice":false},"axis":null},"x2":{"field":"w2"},"y":{"field":"f","type":"quantitative","scale":{"type":"log","domain":[0.00658,65.2],"nice":false},"axis":null}}},
  {"data":{"name":"phot"},"transform":[{"filter":"datum.s == 'obs'"}],"mark":{"type":"point","filled":true,"size":230,"color":"black","opacity":1},
   "encoding":{"x":{"field":"w","type":"quantitative","scale":{"type":"log","domain":[0.79,19.56],"nice":false},"axis":null},"y":{"field":"f","type":"quantitative","scale":{"type":"log","domain":[0.00658,65.2],"nice":false},"axis":null}}},
  {"data":{"name":"mono"},"transform":[{"filter":"datum.p == 'a'"}],"mark":{"type":"text","align":"left","baseline":"middle","font":"Liberation Mono","fontSize":23.5,"color":"black"},
   "encoding":{"x":{"field":"w","type":"quantitative","scale":{"type":"log","domain":[0.79,19.56],"nice":false},"axis":null},"y":{"field":"f","type":"quantitative","scale":{"type":"log","domain":[0.00658,65.2],"nice":false},"axis":null},"text":{"field":"t"}}},
  {"data":{"name":"ital"},"transform":[{"filter":"datum.p == 'a'"}],"mark":{"type":"text","align":"left","baseline":"middle","font":"Liberation Mono","fontStyle":"italic","fontSize":23.5,"color":"black"},
   "encoding":{"x":{"field":"w","type":"quantitative","scale":{"type":"log","domain":[0.79,19.56],"nice":false},"axis":null},"y":{"field":"f","type":"quantitative","scale":{"type":"log","domain":[0.00658,65.2],"nice":false},"axis":null},"text":{"field":"t"}}},
  {"data":{"name":"tags"},"transform":[{"filter":"datum.p == 'a'"}],"mark":{"type":"text","align":"left","baseline":"middle","font":"DejaVu Serif","fontWeight":"bold","fontSize":22,"color":"black"},
   "encoding":{"x":{"field":"w","type":"quantitative","scale":{"type":"log","domain":[0.79,19.56],"nice":false},"axis":null},"y":{"field":"f","type":"quantitative","scale":{"type":"log","domain":[0.00658,65.2],"nice":false},"axis":null},"text":{"field":"t"}}},
  {"data":{"name":"leg"},"transform":[{"filter":"datum.p == 'a'"}],"mark":{"type":"text","align":"left","baseline":"middle","font":"DejaVu Serif","fontWeight":"bold","fontSize":23},
   "encoding":{"x":{"field":"w","type":"quantitative","scale":{"type":"log","domain":[0.79,19.56],"nice":false},"axis":null},"y":{"field":"f","type":"quantitative","scale":{"type":"log","domain":[0.00658,65.2],"nice":false},"axis":null},"text":{"field":"t"},"color":{"field":"s","type":"nominal","scale":{"domain":["neq","eq","tuned"],"range":["#8b1d52","#dcc678","#89cdea"]},"legend":null}}},
  {"data":{"name":"legsub"},"transform":[{"filter":"datum.p == 'a'"}],"mark":{"type":"text","align":"left","baseline":"middle","font":"DejaVu Serif","fontWeight":"bold","fontSize":13},
   "encoding":{"x":{"field":"w","type":"quantitative","scale":{"type":"log","domain":[0.79,19.56],"nice":false},"axis":null},"y":{"field":"f","type":"quantitative","scale":{"type":"log","domain":[0.00658,65.2],"nice":false},"axis":null},"text":{"field":"t"},"color":{"field":"s","type":"nominal","scale":{"domain":["neq","eq","tuned"],"range":["#8b1d52","#dcc678","#89cdea"]},"legend":null}}}
 ]
},
{
 "width":899,"height":410,
 "resolve":{"axis":{"x":"independent","y":"independent"}},
 "layer":[
  {"data":{"name":"obs"},"mark":{"type":"line","color":"black","strokeWidth":1.6,"clip":true,"strokeJoin":"round"},
   "encoding":{"x":{"field":"w","type":"quantitative","scale":{"type":"log","domain":[0.79,19.56],"nice":false},"axis":{"orient":"bottom","values":[0.8,0.9,1,2,3,4,5,6,7,8,9,10],"labels":false,"title":null,"tickSize":{"condition":{"test":"datum.value == 1 || datum.value == 10","value":-15},"value":-8}}},
    "y":{"field":"f","type":"quantitative","scale":{"type":"log","domain":[0.00656,168],"nice":false},"axis":{"orient":"left","values":[0.007,0.008,0.009,0.01,0.02,0.03,0.04,0.05,0.06,0.07,0.08,0.09,0.1,0.2,0.3,0.4,0.5,0.6,0.7,0.8,0.9,1,2,3,4,5,6,7,8,9,10,20,30,40,50,60,70,80,90,100],"labels":false,"title":null,"tickSize":{"condition":{"test":"abs(log(datum.value)/LN10 - round(log(datum.value)/LN10)) < 0.001","value":-15},"value":-8}}},
    "detail":{"field":"seg","type":"nominal"}}},
  {"data":{"name":"tuned"},"mark":{"type":"line","color":"#89cdea","strokeWidth":2.8,"clip":true,"strokeJoin":"round"},
   "encoding":{"x":{"field":"w","type":"quantitative","scale":{"type":"log","domain":[0.79,19.56],"nice":false},"axis":{"orient":"top","values":[0.8,0.9,1,2,3,4,5,6,7,8,9,10],"labels":false,"title":null,"tickSize":{"condition":{"test":"datum.value == 1 || datum.value == 10","value":-15},"value":-8}}},
    "y":{"field":"f","type":"quantitative","scale":{"type":"log","domain":[0.00656,168],"nice":false},"axis":{"orient":"right","values":[0.007,0.008,0.009,0.01,0.02,0.03,0.04,0.05,0.06,0.07,0.08,0.09,0.1,0.2,0.3,0.4,0.5,0.6,0.7,0.8,0.9,1,2,3,4,5,6,7,8,9,10,20,30,40,50,60,70,80,90,100],"labels":false,"title":null,"tickSize":{"condition":{"test":"abs(log(datum.value)/LN10 - round(log(datum.value)/LN10)) < 0.001","value":-15},"value":-8}}}}},
  {"data":{"name":"bars"},"mark":{"type":"rule","strokeWidth":3,"clip":true},
   "encoding":{"x":{"field":"w1","type":"quantitative","scale":{"type":"log","domain":[0.79,19.56],"nice":false},"axis":null},"x2":{"field":"w2"},
    "y":{"field":"f","type":"quantitative","scale":{"type":"log","domain":[0.00656,168],"nice":false},"axis":{"orient":"left","values":[0.01,0.1,1,10,100],"ticks":false,"format":"~g","labelFontSize":29,"labelPadding":17,"title":"Flux ×1e16 W/m²/μm","titleFontSize":33,"titlePadding":12}},
    "color":{"field":"mol","type":"nominal","scale":{"domain":["H2O","CH4","NH3","H2","H2S","PH3","CO","CO2","HCN"],"range":["#1f1fff","#ff1a1a","#19e619","#8c8c8c","#7a1ee0","#0f6b3a","#e632e6","#ffc800","#6e6a14"]},"legend":null}}},
  {"data":{"name":"mlab"},"transform":[{"filter":"datum.mol != 'NH3'"}],"mark":{"type":"text","align":"left","baseline":"middle","font":"DejaVu Serif","fontSize":19},
   "encoding":{"x":{"field":"w","type":"quantitative","scale":{"type":"log","domain":[0.79,19.56],"nice":false},"axis":null},"y":{"field":"f","type":"quantitative","scale":{"type":"log","domain":[0.00656,168],"nice":false},"axis":null},"text":{"field":"t"},
    "color":{"field":"mol","type":"nominal","scale":{"domain":["H2O","CH4","NH3","H2","H2S","PH3","CO","CO2","HCN"],"range":["#1f1fff","#ff1a1a","#19e619","#8c8c8c","#7a1ee0","#0f6b3a","#e632e6","#ffc800","#6e6a14"]},"legend":null}}},
  {"data":{"name":"mlab"},"transform":[{"filter":"datum.mol == 'NH3'"}],"mark":{"type":"text","align":"left","baseline":"middle","font":"DejaVu Serif","fontWeight":"bold","fontSize":19,"color":"#19e619"},
   "encoding":{"x":{"field":"w","type":"quantitative","scale":{"type":"log","domain":[0.79,19.56],"nice":false},"axis":null},"y":{"field":"f","type":"quantitative","scale":{"type":"log","domain":[0.00656,168],"nice":false},"axis":null},"text":{"field":"t"}}},
  {"data":{"name":"w3"},"mark":{"type":"rule","color":"#333333","strokeWidth":1.5,"strokeDash":[14,9]},
   "encoding":{"x":{"field":"w1","type":"quantitative","scale":{"type":"log","domain":[0.79,19.56],"nice":false},"axis":null},"x2":{"field":"w2"},"y":{"field":"f","type":"quantitative","scale":{"type":"log","domain":[0.00656,168],"nice":false},"axis":null}}},
  {"data":{"name":"phot"},"transform":[{"filter":"datum.s == 'tuned'"}],"mark":{"type":"point","filled":true,"size":45,"color":"#89cdea","opacity":1},
   "encoding":{"x":{"field":"w","type":"quantitative","scale":{"type":"log","domain":[0.79,19.56],"nice":false},"axis":null},"y":{"field":"f","type":"quantitative","scale":{"type":"log","domain":[0.00656,168],"nice":false},"axis":null}}},
  {"data":{"name":"phot"},"transform":[{"filter":"datum.s == 'obs'"}],"mark":{"type":"point","filled":true,"size":45,"color":"black","opacity":1},
   "encoding":{"x":{"field":"w","type":"quantitative","scale":{"type":"log","domain":[0.79,19.56],"nice":false},"axis":null},"y":{"field":"f","type":"quantitative","scale":{"type":"log","domain":[0.00656,168],"nice":false},"axis":null}}},
  {"data":{"name":"ital"},"transform":[{"filter":"datum.p == 'b'"}],"mark":{"type":"text","align":"left","baseline":"middle","font":"Liberation Mono","fontStyle":"italic","fontSize":23.5,"color":"black"},
   "encoding":{"x":{"field":"w","type":"quantitative","scale":{"type":"log","domain":[0.79,19.56],"nice":false},"axis":null},"y":{"field":"f","type":"quantitative","scale":{"type":"log","domain":[0.00656,168],"nice":false},"axis":null},"text":{"field":"t"}}},
  {"data":{"name":"tags"},"transform":[{"filter":"datum.p == 'b'"}],"mark":{"type":"text","align":"left","baseline":"middle","font":"DejaVu Serif","fontWeight":"bold","fontSize":22,"color":"black"},
   "encoding":{"x":{"field":"w","type":"quantitative","scale":{"type":"log","domain":[0.79,19.56],"nice":false},"axis":null},"y":{"field":"f","type":"quantitative","scale":{"type":"log","domain":[0.00656,168],"nice":false},"axis":null},"text":{"field":"t"}}},
  {"data":{"name":"leg"},"transform":[{"filter":"datum.p == 'b'"}],"mark":{"type":"text","align":"left","baseline":"middle","font":"DejaVu Serif","fontWeight":"bold","fontSize":23,"color":"#89cdea"},
   "encoding":{"x":{"field":"w","type":"quantitative","scale":{"type":"log","domain":[0.79,19.56],"nice":false},"axis":null},"y":{"field":"f","type":"quantitative","scale":{"type":"log","domain":[0.00656,168],"nice":false},"axis":null},"text":{"field":"t"}}},
  {"data":{"name":"legsub"},"transform":[{"filter":"datum.p == 'b'"}],"mark":{"type":"text","align":"left","baseline":"middle","font":"DejaVu Serif","fontWeight":"bold","fontSize":13,"color":"#89cdea"},
   "encoding":{"x":{"field":"w","type":"quantitative","scale":{"type":"log","domain":[0.79,19.56],"nice":false},"axis":null},"y":{"field":"f","type":"quantitative","scale":{"type":"log","domain":[0.00656,168],"nice":false},"axis":null},"text":{"field":"t"}}}
 ]
},
{
 "width":899,"height":72,
 "resolve":{"axis":{"x":"independent","y":"independent"}},
 "layer":[
  {"data":{"name":"diff"},"transform":[{"filter":"datum.s == 'neq'"}],"mark":{"type":"line","color":"#8b1d52","strokeWidth":1.3,"clip":true},
   "encoding":{"x":{"field":"w","type":"quantitative","scale":{"type":"log","domain":[0.79,19.56],"nice":false},"axis":{"orient":"bottom","values":[0.8,0.9,1,2,3,4,5,6,7,8,9,10],"labels":false,"title":null,"tickSize":{"condition":{"test":"datum.value == 1 || datum.value == 10","value":-15},"value":-8}}},
    "y":{"field":"f","type":"quantitative","scale":{"domain":[-8.57,5.14],"nice":false,"zero":false},"axis":{"orient":"left","values":[-8,-6,-4,-2,0,2,4],"labels":false,"title":null,"tickSize":{"condition":{"test":"datum.value % 4 == 0","value":-12},"value":-6}}},
    "detail":{"field":"seg","type":"nominal"}}},
  {"data":{"name":"diff"},"transform":[{"filter":"datum.s == 'eq'"}],"mark":{"type":"line","color":"#dcc678","strokeWidth":1.3,"clip":true},
   "encoding":{"x":{"field":"w","type":"quantitative","scale":{"type":"log","domain":[0.79,19.56],"nice":false},"axis":{"orient":"top","values":[0.8,0.9,1,2,3,4,5,6,7,8,9,10],"labels":false,"title":null,"tickSize":{"condition":{"test":"datum.value == 1 || datum.value == 10","value":-15},"value":-8}}},
    "y":{"field":"f","type":"quantitative","scale":{"domain":[-8.57,5.14],"nice":false,"zero":false},"axis":{"orient":"right","values":[-8,-6,-4,-2,0,2,4],"labels":false,"title":null,"tickSize":{"condition":{"test":"datum.value % 4 == 0","value":-12},"value":-6}}},
    "detail":{"field":"seg","type":"nominal"}}},
  {"data":{"name":"diff"},"transform":[{"filter":"datum.s == 'tuned'"}],"mark":{"type":"line","color":"#89cdea","strokeWidth":1.3,"clip":true},
   "encoding":{"x":{"field":"w","type":"quantitative","scale":{"type":"log","domain":[0.79,19.56],"nice":false},"axis":null},
    "y":{"field":"f","type":"quantitative","scale":{"domain":[-8.57,5.14],"nice":false,"zero":false},"axis":{"orient":"left","values":[-8,-4,0,4],"ticks":false,"format":"d","labelFontSize":18,"labelPadding":11,"title":null}},
    "detail":{"field":"seg","type":"nominal"}}},
  {"data":{"name":"ital"},"transform":[{"filter":"datum.p == 'c'"}],"mark":{"type":"text","align":"left","baseline":"middle","font":"Liberation Mono","fontStyle":"italic","fontSize":22,"color":"black"},
   "encoding":{"x":{"field":"w","type":"quantitative","scale":{"type":"log","domain":[0.79,19.56],"nice":false},"axis":null},"y":{"field":"f","type":"quantitative","scale":{"domain":[-8.57,5.14],"nice":false,"zero":false},"axis":null},"text":{"field":"t"}}},
  {"data":{"name":"tags"},"transform":[{"filter":"datum.p == 'c'"}],"mark":{"type":"text","align":"left","baseline":"middle","font":"DejaVu Serif","fontWeight":"bold","fontSize":22,"color":"black"},
   "encoding":{"x":{"field":"w","type":"quantitative","scale":{"type":"log","domain":[0.79,19.56],"nice":false},"axis":null},"y":{"field":"f","type":"quantitative","scale":{"domain":[-8.57,5.14],"nice":false,"zero":false},"axis":null},"text":{"field":"t"}}}
 ]
},
{
 "width":899,"height":375,
 "resolve":{"axis":{"x":"independent","y":"independent"}},
 "layer":[
  {"data":{"name":"tuned"},"mark":{"type":"line","color":"#89cdea","strokeWidth":2.8,"clip":true,"strokeJoin":"round"},
   "encoding":{"x":{"field":"w","type":"quantitative","scale":{"type":"log","domain":[0.79,19.56],"nice":false},"axis":{"orient":"bottom","values":[0.8,0.9,1,2,3,4,5,6,7,8,9,10],"labels":false,"title":null,"tickSize":{"condition":{"test":"datum.value == 1 || datum.value == 10","value":-15},"value":-8}}},
    "y":{"field":"f","type":"quantitative","scale":{"type":"log","domain":[0.0064,69],"nice":false},"axis":{"orient":"left","values":[0.007,0.008,0.009,0.01,0.02,0.03,0.04,0.05,0.06,0.07,0.08,0.09,0.1,0.2,0.3,0.4,0.5,0.6,0.7,0.8,0.9,1,2,3,4,5,6,7,8,9,10,20,30,40,50,60],"labels":false,"title":null,"tickSize":{"condition":{"test":"abs(log(datum.value)/LN10 - round(log(datum.value)/LN10)) < 0.001","value":-15},"value":-8}}}}},
  {"data":{"name":"neq"},"mark":{"type":"line","color":"#8b1d52","strokeWidth":2.6,"clip":true,"strokeJoin":"round"},
   "encoding":{"x":{"field":"w","type":"quantitative","scale":{"type":"log","domain":[0.79,19.56],"nice":false},"axis":{"orient":"top","values":[0.8,0.9,1,2,3,4,5,6,7,8,9,10],"labels":false,"title":null,"tickSize":{"condition":{"test":"datum.value == 1 || datum.value == 10","value":-15},"value":-8}}},
    "y":{"field":"f","type":"quantitative","scale":{"type":"log","domain":[0.0064,69],"nice":false},"axis":{"orient":"right","values":[0.007,0.008,0.009,0.01,0.02,0.03,0.04,0.05,0.06,0.07,0.08,0.09,0.1,0.2,0.3,0.4,0.5,0.6,0.7,0.8,0.9,1,2,3,4,5,6,7,8,9,10,20,30,40,50,60],"labels":false,"title":null,"tickSize":{"condition":{"test":"abs(log(datum.value)/LN10 - round(log(datum.value)/LN10)) < 0.001","value":-15},"value":-8}}}}},
  {"data":{"name":"ital"},"transform":[{"filter":"datum.p == 'd'"}],"mark":{"type":"text","align":"left","baseline":"middle","font":"Liberation Mono","fontStyle":"italic","fontSize":23.5,"color":"black"},
   "encoding":{"x":{"field":"w","type":"quantitative","scale":{"type":"log","domain":[0.79,19.56],"nice":false},"axis":{"orient":"bottom","values":[1,10],"ticks":false,"format":"~g","labelFontSize":29,"labelPadding":12,"title":"Wavelength μm","titleFontSize":29,"titlePadding":8}},
    "y":{"field":"f","type":"quantitative","scale":{"type":"log","domain":[0.0064,69],"nice":false},"axis":{"orient":"left","values":[0.01,0.1,1,10],"ticks":false,"format":"~g","labelFontSize":29,"labelPadding":17,"title":null}},"text":{"field":"t"}}},
  {"data":{"name":"tags"},"transform":[{"filter":"datum.p == 'd'"}],"mark":{"type":"text","align":"left","baseline":"middle","font":"DejaVu Serif","fontWeight":"bold","fontSize":22,"color":"black"},
   "encoding":{"x":{"field":"w","type":"quantitative","scale":{"type":"log","domain":[0.79,19.56],"nice":false},"axis":null},"y":{"field":"f","type":"quantitative","scale":{"type":"log","domain":[0.0064,69],"nice":false},"axis":null},"text":{"field":"t"}}}
 ]
}
]
}
